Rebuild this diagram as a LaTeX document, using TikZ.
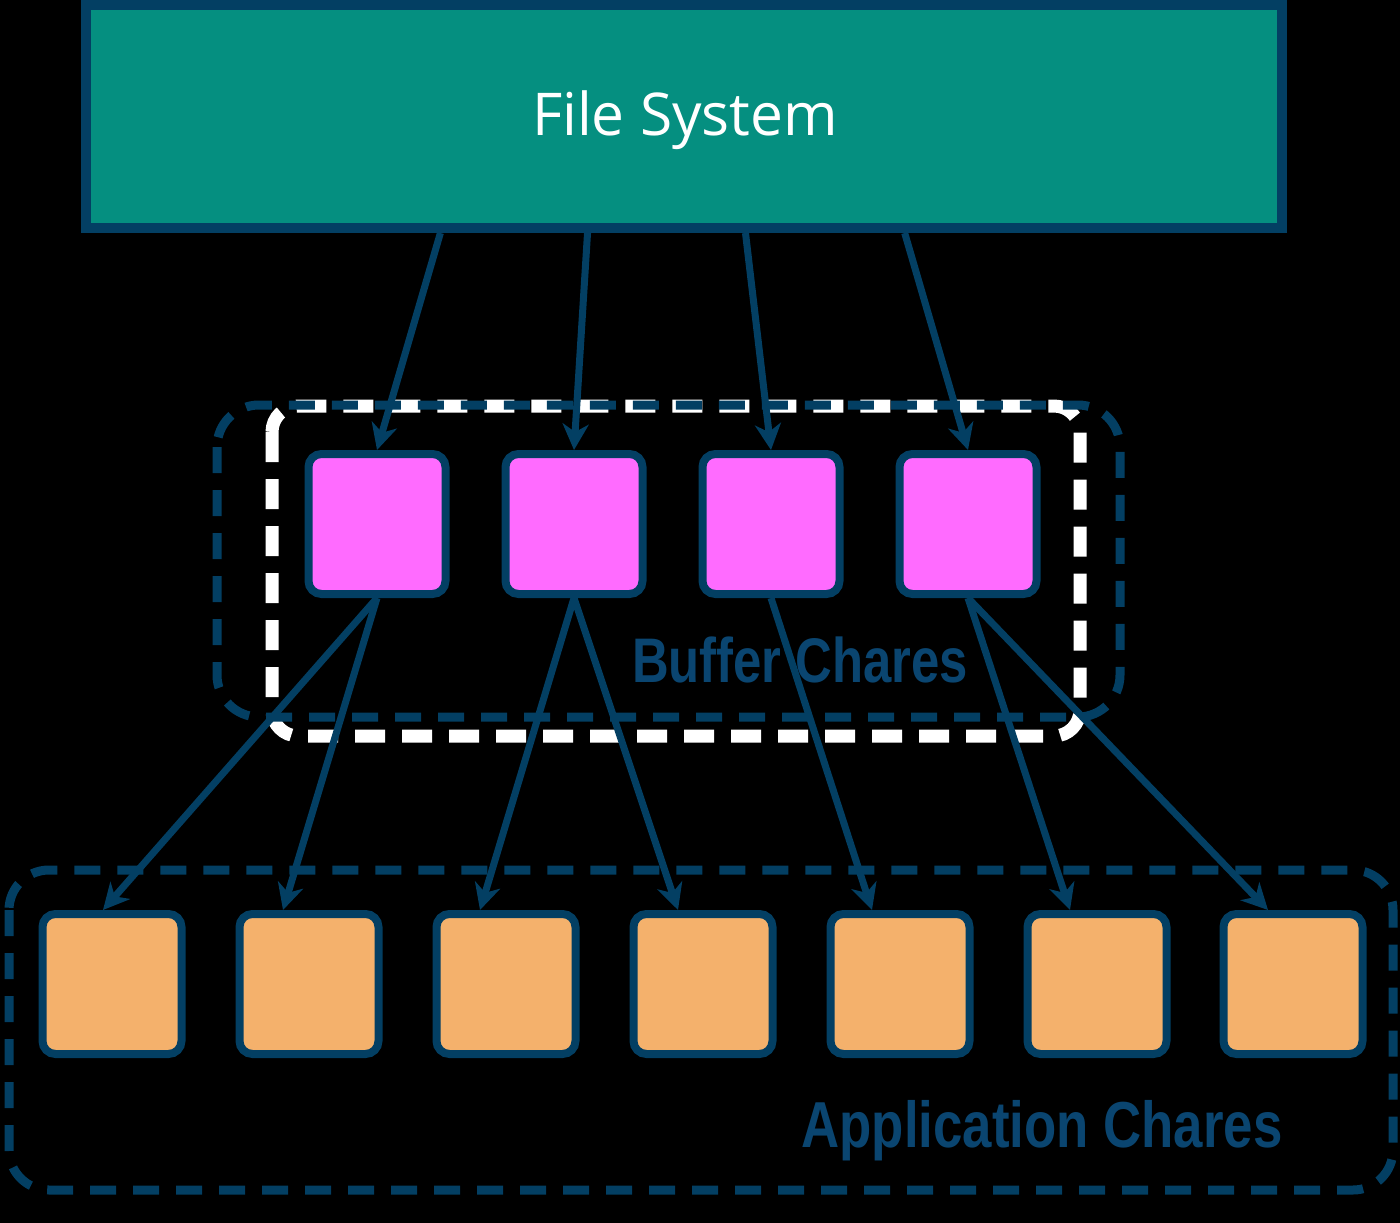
\documentclass[tikz,border=0pt]{standalone}
\usepackage{fontspec}
\usepackage{graphicx}
\setmainfont{Liberation Sans}
\newfontfamily\fsfont{Open Sans}
\usetikzlibrary{arrows.meta,calc}
\definecolor{navyline}{HTML}{033F63}
\definecolor{fsfill}{HTML}{058F80}
\definecolor{buffill}{HTML}{FF6BFF}
\definecolor{appfill}{HTML}{F4B16C}
\definecolor{lbltext}{HTML}{0A4570}
\tikzset{
  fsbox/.style={draw=navyline, fill=fsfill, line width=10pt, minimum width=1196pt, minimum height=223pt, inner sep=0pt},
  bufbox/.style={draw=navyline, fill=buffill, line width=8pt, rounded corners=13pt, minimum width=137pt, minimum height=140pt, inner sep=0pt},
  appbox/.style={draw=navyline, fill=appfill, line width=8pt, rounded corners=13pt, minimum width=139pt, minimum height=140pt, inner sep=0pt},
  link/.style={draw=navyline, line width=7pt, -{Stealth[length=26pt,width=26pt,inset=8pt]}},
  grouplbl/.style={text=lbltext, anchor=base, inner sep=0pt},
  groupline/.style={draw=navyline, line width=9pt, dash pattern=on 26pt off 17pt},
  ghostline/.style={draw=white, line width=13pt, dash pattern=on 30pt off 17pt}
}
\begin{document}
\begin{tikzpicture}[x=1pt,y=-1pt]
\fill[black] (0,0) rectangle (1400,1223);
\useasboundingbox (0,0) rectangle (1400,1223);

% group frames
\draw[ghostline, rounded corners=26pt] (272,406) rectangle (1080,736);
\draw[groupline, rounded corners=42pt] (217,405) rectangle (1120,717);
\draw[groupline, rounded corners=40pt] (9,870) rectangle (1393,1190);

% file system
\node[fsbox] (fs) at (684,116.5) {};
\node[anchor=base, text=white, inner sep=0pt] (fstext) at (685,135)
  {\resizebox{306pt}{\height}{\fsfont\fontsize{59pt}{59pt}\selectfont File System}};

% group labels
\node[grouplbl] (buflabel) at (800,682)
  {\resizebox{336pt}{\height}{\fontsize{63pt}{63pt}\selectfont\bfseries Buffer Chares}};
\node[grouplbl] (applabel) at (1042,1147)
  {\resizebox{481pt}{\height}{\fontsize{65pt}{65pt}\selectfont\bfseries Application Chares}};

% buffer chares
\node[bufbox] (m1) at (377,524) {};
\node[bufbox] (m2) at (574,524) {};
\node[bufbox] (m3) at (771,524) {};
\node[bufbox] (m4) at (968,524) {};

% application chares
\node[appbox] (o1) at (112,984) {};
\node[appbox] (o2) at (309,984) {};
\node[appbox] (o3) at (506,984) {};
\node[appbox] (o4) at (703,984) {};
\node[appbox] (o5) at (900,984) {};
\node[appbox] (o6) at (1097,984) {};
\node[appbox] (o7) at (1293,984) {};

% file system -> buffers
\draw[link] ($(fs.south west)!0.298!(fs.south east)$) -- (m1.north);
\draw[link] ($(fs.south west)!0.420!(fs.south east)$) -- (m2.north);
\draw[link] ($(fs.south west)!0.551!(fs.south east)$) -- (m3.north);
\draw[link] ($(fs.south west)!0.683!(fs.south east)$) -- (m4.north);

% buffers -> applications
\draw[link] (m1.south) -- ($(o1.north)+(-9,0)$);
\draw[link] (m1.south) -- ($(o2.north)+(-26,0)$);
\draw[link] (m2.south) -- ($(o3.north)+(-26,0)$);
\draw[link] (m2.south) -- ($(o4.north)+(-25,0)$);
\draw[link] (m3.south) -- ($(o5.north)+(-28,0)$);
\draw[link] (m4.south) -- ($(o6.north)+(-27,0)$);
\draw[link] (m4.south) -- ($(o7.north)+(-25,0)$);
\end{tikzpicture}
\end{document}
